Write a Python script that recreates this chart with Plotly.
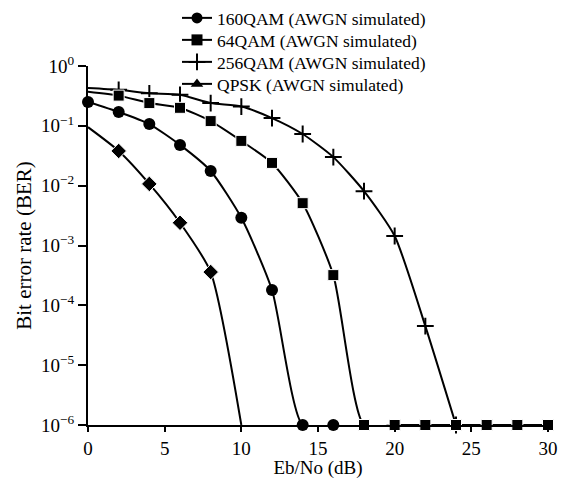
import plotly.graph_objects as go

x_qpsk = [0, 2, 4, 6, 8, 10]
ber_qpsk = [0.095, 0.038, 0.0107, 0.0024, 3.6e-4, 1e-6]

x_160 = [0, 2, 4, 6, 8, 10, 12, 14, 16]
ber_160 = [0.25, 0.17, 0.107, 0.048, 0.0176, 0.0029, 1.8e-4, 1e-6, 1e-6]

x_64 = [0, 2, 4, 6, 8, 10, 12, 14, 16, 18, 20, 22, 24, 26, 28, 30]
ber_64 = [0.37, 0.32, 0.24, 0.20, 0.12, 0.056, 0.024, 0.0051, 3.2e-4,
          1e-6, 1e-6, 1e-6, 1e-6, 1e-6, 1e-6, 1e-6]

x_256 = [0, 2, 4, 6, 8, 10, 12, 14, 16, 18, 20, 22, 24]
ber_256 = [0.43, 0.40, 0.35, 0.33, 0.24, 0.21, 0.135, 0.073, 0.030,
           0.0081, 0.00144, 4.5e-5, 1e-6]

names = ["160QAM (AWGN simulated)", "64QAM (AWGN simulated)",
         "256QAM (AWGN simulated)", "QPSK (AWGN simulated)"]

y_tickvals = [1, 1e-1, 1e-2, 1e-3, 1e-4, 1e-5, 1e-6]
y_ticktext = ["10<sup>0</sup>", "10<sup>\u22121</sup>", "10<sup>\u22122</sup>",
              "10<sup>\u22123</sup>", "10<sup>\u22124</sup>", "10<sup>\u22125</sup>",
              "10<sup>\u22126</sup>"]
x_tickvals = [0, 5, 10, 15, 20, 25, 30]

FONT = "Liberation Serif"
BLK = "black"
W, H = 564, 479
ML, MR, MT, MB = 88, 16, 0, 54
PLOT_TOP = 66  # pixel row of 10^0
paper_h = H - MT - MB
paper_w = W - ML - MR

fig = go.Figure()

def sizes(n, hide, base):
    return [0 if i in hide else base for i in range(n)]

# data traces
fig.add_trace(go.Scatter(
    x=x_256, y=ber_256, mode="lines+markers", showlegend=False,
    line=dict(color=BLK, width=2, shape="spline", smoothing=0.6),
    marker=dict(symbol="cross-thin", size=sizes(len(x_256), {0}, 12), opacity=1,
                color=BLK, line=dict(color=BLK, width=2)),
    cliponaxis=False))
fig.add_trace(go.Scatter(
    x=x_64, y=ber_64, mode="lines+markers", showlegend=False,
    line=dict(color=BLK, width=2, shape="spline", smoothing=0.6),
    marker=dict(symbol="square", size=sizes(len(x_64), {0}, 11), color=BLK, opacity=1),
    cliponaxis=False))
fig.add_trace(go.Scatter(
    x=x_160, y=ber_160, mode="lines+markers", showlegend=False,
    line=dict(color=BLK, width=2, shape="spline", smoothing=0.6),
    marker=dict(symbol="circle", size=12, color=BLK, opacity=1),
    cliponaxis=False))
fig.add_trace(go.Scatter(
    x=x_qpsk, y=ber_qpsk, mode="lines+markers", showlegend=False,
    line=dict(color=BLK, width=2, shape="spline", smoothing=0.6),
    marker=dict(symbol="diamond", size=sizes(len(x_qpsk), {0, len(x_qpsk) - 1}, 12),
                color=BLK, opacity=1),
    cliponaxis=False))

# legend entries, one small legend per row for exact spacing
leg_syms = ["circle", "square", "cross-thin", "triangle-up"]
leg_rows = [18, 40, 62, 84]
leg_ids = ["legend", "legend2", "legend3", "legend4"]
for nm, sym, lid in zip(names, leg_syms, leg_ids):
    fig.add_trace(go.Scatter(
        x=[None], y=[None], mode="lines+markers", name=nm, legend=lid,
        line=dict(color=BLK, width=2),
        marker=dict(symbol=sym, size=11 if sym != "cross-thin" else 12, opacity=1,
                    color=BLK, line=dict(color=BLK, width=2 if sym == "cross-thin" else 0))))

layout_legends = {}
for lid, row in zip(leg_ids, leg_rows):
    layout_legends[lid] = dict(
        xref="paper", yref="paper", x=(177 - ML) / paper_w,
        y=(H - MB - row) / paper_h,
        xanchor="left", yanchor="middle", bgcolor="rgba(0,0,0,0)",
        borderwidth=0, font=dict(family=FONT, size=17.5, color=BLK), itemwidth=30)

fig.update_layout(
    width=W, height=H,
    margin=dict(l=ML, r=MR, t=MT, b=MB),
    paper_bgcolor="white", plot_bgcolor="white",
    font=dict(family=FONT, size=19, color=BLK),
    showlegend=True,
    **layout_legends,
)
fig.update_xaxes(
    range=[0, 30], tickvals=x_tickvals, ticks="outside", ticklen=5, tickwidth=2,
    tickcolor=BLK, showline=True, linecolor=BLK, linewidth=2, showgrid=False,
    zeroline=False, automargin=False,
    title=dict(text="Eb/No (dB)", font=dict(family=FONT, size=19), standoff=5),
    tickfont=dict(family=FONT, size=19))
fig.update_yaxes(
    type="log", range=[-6, 0], tickvals=y_tickvals, ticktext=y_ticktext,
    domain=[0, (H - MB - PLOT_TOP) / paper_h],
    ticks="outside", ticklen=8, tickwidth=2, tickcolor=BLK, showline=True,
    linecolor=BLK, linewidth=2, showgrid=False, zeroline=False, automargin=False,
    title=dict(text="Bit error rate (BER)", font=dict(family=FONT, size=21), standoff=4),
    tickfont=dict(family=FONT, size=19))

fig.write_html("out.html")
